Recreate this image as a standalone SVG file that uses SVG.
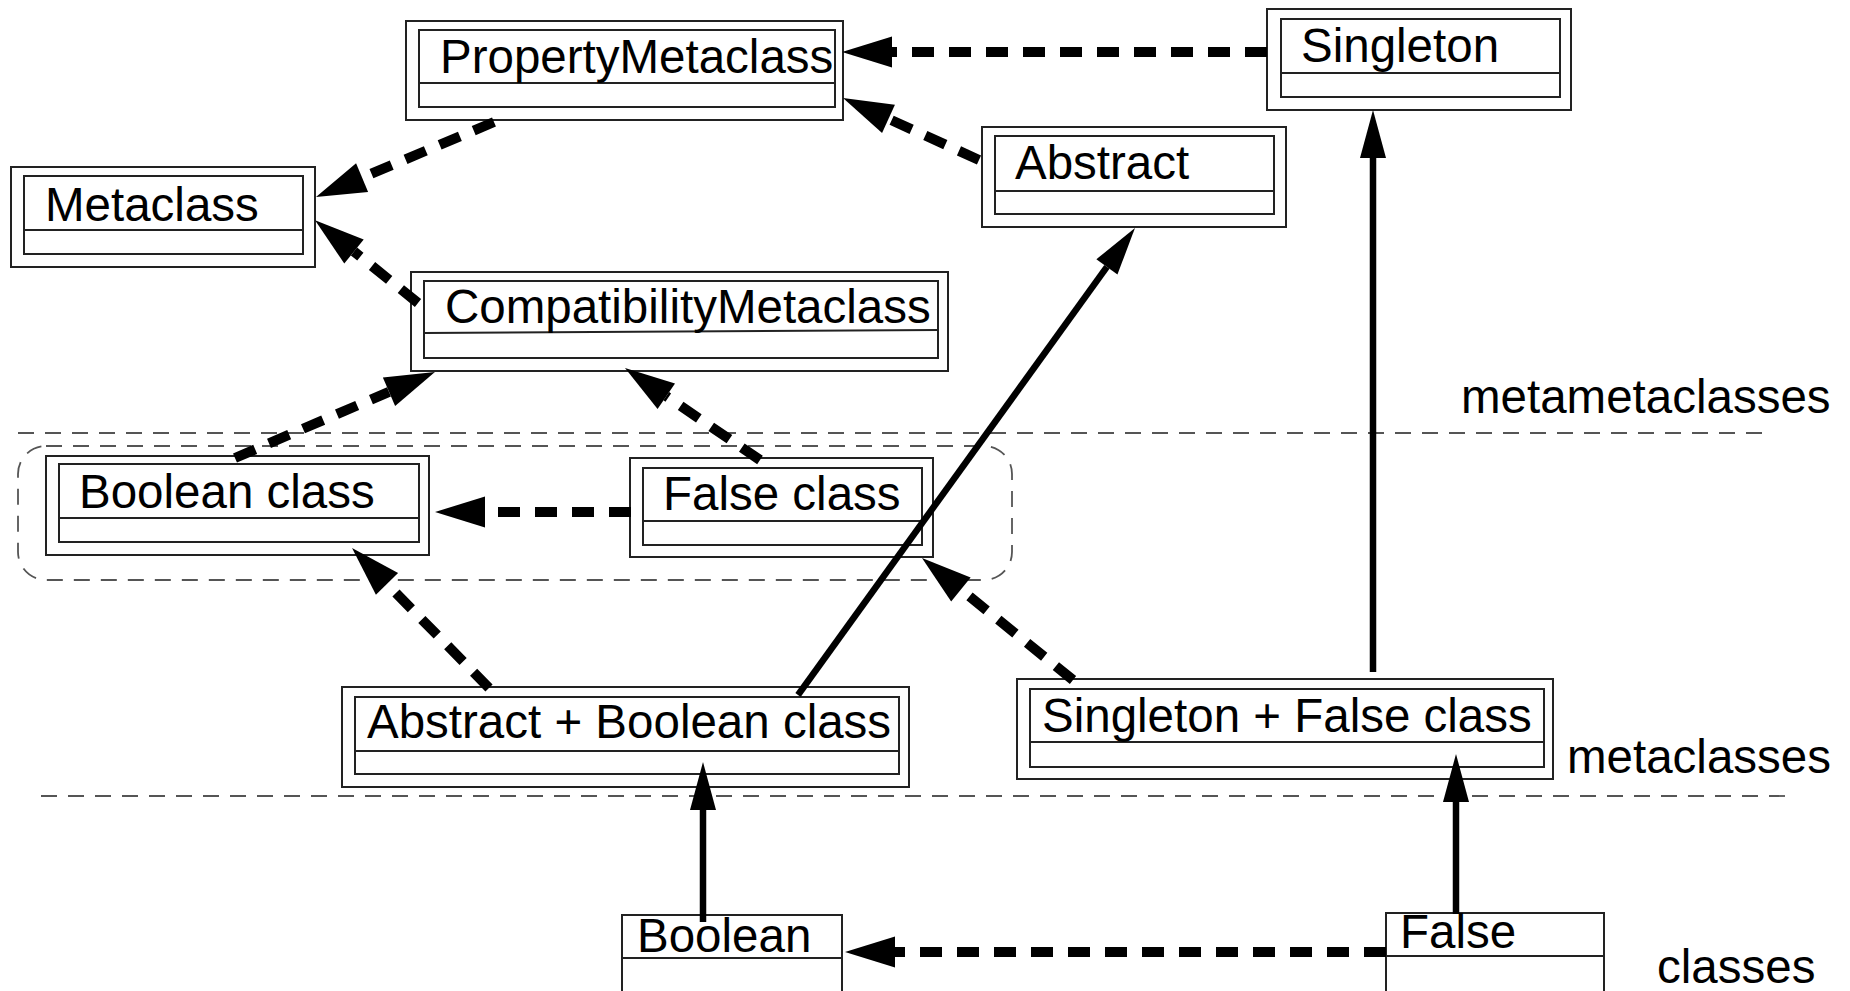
<svg xmlns="http://www.w3.org/2000/svg" width="1850" height="991" viewBox="0 0 1850 991">
<style>
.o{fill:none;stroke:#222;stroke-width:2}
.t{font-family:"Liberation Sans",Arial,Helvetica,sans-serif;font-size:47.5px;fill:#000}
.sep{fill:none;stroke:#555;stroke-width:1.8;stroke-dasharray:16 11}
.d{fill:none;stroke:#000;stroke-width:10;stroke-dasharray:22 15;marker-end:url(#ah)}
.s{fill:none;stroke:#000;stroke-width:6.5;marker-end:url(#sh)}
</style>
<defs>
<marker id="ah" markerUnits="userSpaceOnUse" markerWidth="52" markerHeight="32" refX="0" refY="15.5" orient="auto" overflow="visible"><path d="M0,0 L50,15.5 L0,31 z" fill="#000"/></marker>
<marker id="sh" markerUnits="userSpaceOnUse" markerWidth="50" markerHeight="28" refX="0" refY="13" orient="auto" overflow="visible"><path d="M0,0 L48,13 L0,26 z" fill="#000"/></marker>
</defs>
<g id="separators">
<line class="sep" x1="18" y1="433" x2="1772" y2="433"/>
<line class="sep" x1="41" y1="796" x2="1786" y2="796"/>
<rect id="group-boundary" class="sep" x="18" y="446" width="994" height="134" rx="28" ry="28"/>
<text class="t" x="1461" y="413">metametaclasses</text>
<text class="t" x="1567" y="773">metaclasses</text>
<text class="t" x="1657" y="983">classes</text>
</g>
<g id="PropertyMetaclass">
<rect class="o" x="406" y="21" width="437" height="99"/>
<rect class="o" x="419" y="30" width="416" height="77"/>
<line class="o" x1="419" y1="83" x2="835" y2="83"/>
<text class="t" x="440" y="73">PropertyMetaclass</text>
</g>
<g id="Metaclass">
<rect class="o" x="11" y="167" width="304" height="100"/>
<rect class="o" x="24" y="176" width="279" height="78"/>
<line class="o" x1="24" y1="230" x2="303" y2="230"/>
<text class="t" x="45" y="221">Metaclass</text>
</g>
<g id="Singleton">
<rect class="o" x="1267" y="9" width="304" height="101"/>
<rect class="o" x="1281" y="19" width="279" height="78"/>
<line class="o" x1="1281" y1="73" x2="1560" y2="73"/>
<text class="t" x="1301" y="62">Singleton</text>
</g>
<g id="Abstract">
<rect class="o" x="982" y="127" width="304" height="100"/>
<rect class="o" x="995" y="136" width="279" height="78"/>
<line class="o" x1="995" y1="191" x2="1274" y2="191"/>
<text class="t" x="1015" y="179">Abstract</text>
</g>
<g id="CompatibilityMetaclass">
<rect class="o" x="411" y="272" width="537" height="99"/>
<rect class="o" x="424" y="281" width="514" height="77"/>
<line class="o" x1="424" y1="333" x2="938" y2="330"/>
<text class="t" x="445" y="323">CompatibilityMetaclass</text>
</g>
<g id="BooleanClass">
<rect class="o" x="46" y="456" width="383" height="99"/>
<rect class="o" x="59" y="464" width="360" height="78"/>
<line class="o" x1="59" y1="518" x2="419" y2="518"/>
<text class="t" x="79" y="508">Boolean class</text>
</g>
<g id="FalseClass">
<rect class="o" x="630" y="458" width="303" height="99"/>
<rect class="o" x="643" y="468" width="279" height="77"/>
<line class="o" x1="643" y1="521" x2="922" y2="521"/>
<text class="t" x="663" y="510">False class</text>
</g>
<g id="AbstractBooleanClass">
<rect class="o" x="342" y="687" width="567" height="100"/>
<rect class="o" x="355" y="697" width="544" height="77"/>
<line class="o" x1="355" y1="751" x2="899" y2="751"/>
<text class="t" x="367" y="738">Abstract + Boolean class</text>
</g>
<g id="SingletonFalseClass">
<rect class="o" x="1017" y="679" width="536" height="100"/>
<rect class="o" x="1030" y="689" width="514" height="78"/>
<line class="o" x1="1030" y1="742" x2="1544" y2="742"/>
<text class="t" x="1042" y="732">Singleton + False class</text>
</g>
<g id="Boolean">
<rect class="o" x="622" y="915" width="220" height="90"/>
<line class="o" x1="622" y1="958" x2="842" y2="958"/>
<text class="t" x="637" y="952">Boolean</text>
</g>
<g id="False">
<rect class="o" x="1386" y="913" width="218" height="90"/>
<line class="o" x1="1386" y1="956" x2="1604" y2="956"/>
<text class="t" x="1400" y="948">False</text>
</g>
<g id="connectors">
<path class="d" d="M1267,52 L892,52"/>
<path class="d" d="M979,160 L888.5,118.8"/>
<path class="d" d="M494,122 L362.1,177.6"/>
<path class="d" d="M418,303 L354,251.5"/>
<path class="d" d="M235,458 L389,391.8"/>
<path class="d" d="M760,460 L666.3,396.2"/>
<path class="d" d="M631,512 L485,512"/>
<path class="d" d="M489,688 L387,583.8"/>
<path class="d" d="M1073,680 L960.9,589.5"/>
<path class="d" d="M1386,952 L895,952"/>
<path class="s" d="M798,695 L1106.9,266.9"/>
<path class="s" d="M1373,672 L1373,158"/>
<path class="s" d="M703,922 L703,810"/>
<path class="s" d="M1456,914 L1456,802"/>
</g>
</svg>
